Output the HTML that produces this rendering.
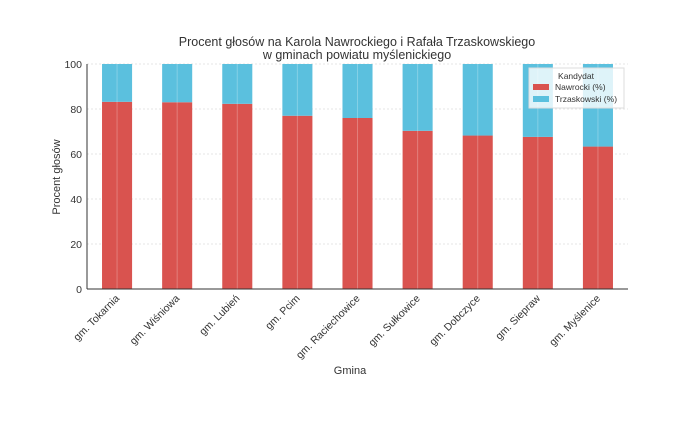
<!DOCTYPE html>
<html><head><meta charset="utf-8"><style>
body{margin:0;background:#fff;}
svg{font-family:"Liberation Sans","DejaVu Sans",sans-serif;}
</style></head><body>
<svg id="chart" width="675" height="417" viewBox="0 0 675 417">
<text x="357" y="46" text-anchor="middle" font-size="12.5" fill="#333">Procent głosów na Karola Nawrockiego i Rafała Trzaskowskiego</text>
<text x="357" y="59" text-anchor="middle" font-size="12.5" fill="#333">w gminach powiatu myślenickiego</text>
<g id="grid"></g><g id="bars"></g><g id="axes"></g>
<text x="350" y="374" text-anchor="middle" font-size="11" fill="#333">Gmina</text>
<text transform="translate(60,177) rotate(-90)" text-anchor="middle" font-size="11" fill="#333">Procent głosów</text>
<g>
<rect x="529" y="68" width="95" height="40" fill="#fff" fill-opacity="0.8" stroke="#ddd"/>
<text x="576" y="79" text-anchor="middle" font-size="8.5" fill="#333">Kandydat</text>
<rect x="533" y="84" width="16" height="6" fill="#d9534f"/>
<text x="555" y="90" font-size="8.5" fill="#333">Nawrocki (%)</text>
<rect x="533" y="96" width="16" height="6" fill="#5bc0de"/>
<text x="555" y="102" font-size="8.5" fill="#333">Trzaskowski (%)</text>
</g>
</svg>
<script>
const categories=["gm. Tokarnia","gm. Wiśniowa","gm. Lubień","gm. Pcim","gm. Raciechowice","gm. Sułkowice","gm. Dobczyce","gm. Siepraw","gm. Myślenice"];
const nawrocki=[83.2,83.0,82.3,77.0,76.0,70.3,68.2,67.6,63.3];
const trzaskowski=[16.8,17.0,17.7,23.0,24.0,29.7,31.8,32.4,36.7];
const yTicks=[0,20,40,60,80,100];
const NS="http://www.w3.org/2000/svg";
const L=87,R=628,T=64,B=289;
const slot=(R-L)/categories.length;
const xc=i=>L+slot*(i+0.5);
const y=v=>B-(v/100)*(B-T);
function mk(t,a,p){const e=document.createElementNS(NS,t);for(const k in a)e.setAttribute(k,a[k]);p.appendChild(e);return e;}
const g=document.getElementById('grid'),bs=document.getElementById('bars'),ax=document.getElementById('axes');
yTicks.forEach(v=>{
 const l=mk('line',{x1:L,x2:R,y1:y(v),y2:y(v),stroke:'#e6e6e6','stroke-dasharray':'2,2'},g);
 
 
 const t=mk('text',{x:L-5,y:y(v)+4,'text-anchor':'end','font-size':'10.5',fill:'#333'},ax);
 t.textContent=v;
 
 
});
categories.forEach((c,i)=>{
 const w=slot*0.5,x=xc(i)-w/2;
 const r1=mk('rect',{x:x,y:y(nawrocki[i]),width:w,height:B-y(nawrocki[i]),fill:'#d9534f'},bs);
 
 
 const top=nawrocki[i]+trzaskowski[i];
 const r2=mk('rect',{x:x,y:y(top),width:w,height:y(nawrocki[i])-y(top),fill:'#5bc0de'},bs);
 
 
 const gl=mk('line',{x1:xc(i),x2:xc(i),y1:T,y2:B,stroke:'#ffffff','stroke-opacity':'0.25'},bs);
 
 
 const t=mk('text',{transform:`translate(${xc(i)+3},${B+10}) rotate(-45)`,'text-anchor':'end','font-size':'10.5',fill:'#333'},ax);
 t.textContent=c;
 
 
});
const a1=mk('line',{x1:L,x2:L,y1:T,y2:B,stroke:'#333'},ax);


const a2=mk('line',{x1:L,x2:R,y1:B,y2:B,stroke:'#333'},ax);


</script>
</body></html>
